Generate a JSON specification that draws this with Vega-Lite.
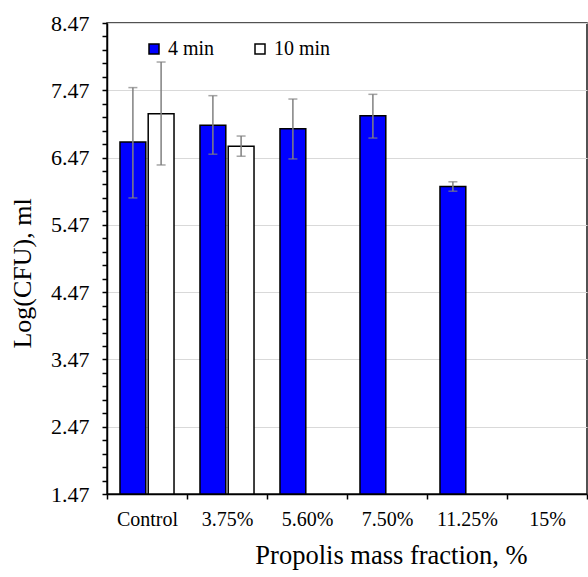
{
  "$schema": "https://vega.github.io/schema/vega-lite/v6.json",
  "width": 480,
  "height": 471,
  "autosize": {"type": "none"},
  "padding": {"left": 107, "top": 23, "right": 1, "bottom": 83},
  "background": "white",
  "config": {
    "view": {"stroke": "#1a1a1a", "strokeWidth": 1.5},
    "font": "Liberation Serif",
    "axisY": {
      "labelOverlap": false,
      "labelBound": false,
      "grid": true,
      "gridColor": "#d9d9d9",
      "gridWidth": 1.2,
      "tickSize": 5,
      "tickWidth": 1.5,
      "tickColor": "black",
      "domainColor": "black",
      "domainWidth": 1.5,
      "labelFont": "Liberation Serif",
      "labelFontSize": 22,
      "labelColor": "black",
      "labelPadding": 13,
      "titleFont": "Liberation Serif",
      "titleFontSize": 26,
      "titleFontWeight": "normal",
      "titleColor": "black",
      "titleAngle": -90,
      "titleX": -77,
      "titleY": 250,
      "titleAlign": "center",
      "titleBaseline": "alphabetic"
    }
  },
  "data": {
    "values": [
      {"fraction": "Control", "time": "4 min", "mean": 6.70, "lo": 5.87, "hi": 7.51},
      {"fraction": "Control", "time": "10 min", "mean": 7.12, "lo": 6.36, "hi": 7.89},
      {"fraction": "3.75%", "time": "4 min", "mean": 6.95, "lo": 6.52, "hi": 7.39},
      {"fraction": "3.75%", "time": "10 min", "mean": 6.64, "lo": 6.49, "hi": 6.79},
      {"fraction": "5.60%", "time": "4 min", "mean": 6.90, "lo": 6.45, "hi": 7.34},
      {"fraction": "7.50%", "time": "4 min", "mean": 7.09, "lo": 6.76, "hi": 7.41},
      {"fraction": "11.25%", "time": "4 min", "mean": 6.04, "lo": 5.97, "hi": 6.11}
    ]
  },
  "encoding": {
    "x": {
      "field": "fraction",
      "type": "nominal",
      "sort": null,
      "scale": {
        "domain": ["Control", "3.75%", "5.60%", "7.50%", "11.25%", "15%"],
        "paddingInner": 0,
        "paddingOuter": 0
      },
      "axis": {
        "title": "Propolis mass fraction, %",
        "grid": false,
        "tickBand": "extent",
        "tickSize": 5,
        "tickWidth": 1.5,
        "tickColor": "black",
        "domainColor": "black",
        "domainWidth": 1.5,
        "labelAngle": 0,
        "labelFont": "Liberation Serif",
        "labelFontSize": 20,
        "labelColor": "black",
        "labelBaseline": "alphabetic",
        "labelPadding": 26,
        "titleFont": "Liberation Serif",
        "titleFontSize": 26.5,
        "titleFontWeight": "normal",
        "titleColor": "black",
        "titleX": 284,
        "titleY": 69,
        "titleAlign": "center",
        "titleBaseline": "alphabetic"
      }
    },
    "xOffset": {
      "field": "time",
      "type": "nominal",
      "scale": {"domain": ["4 min", "10 min"], "paddingInner": 0.085, "paddingOuter": 0.46}
    }
  },
  "layer": [
    {
      "mark": {"type": "bar", "stroke": "black", "strokeWidth": 1.5},
      "encoding": {
        "y": {
          "field": "mean",
          "type": "quantitative",
          "title": "Log(CFU), ml",
          "scale": {"domain": [1.47, 8.47], "nice": false, "zero": false},
          "axis": {
            "values": [1.47, 1.67, 1.87, 2.07, 2.27, 2.47, 2.67, 2.87, 3.07, 3.27, 3.47, 3.67, 3.87, 4.07, 4.27, 4.47, 4.67, 4.87, 5.07, 5.27, 5.47, 5.67, 5.87, 6.07, 6.27, 6.47, 6.67, 6.87, 7.07, 7.27, 7.47, 7.67, 7.87, 8.07, 8.27, 8.47],
            "tickCount": 60,
            "labelExpr": "abs(datum.value - 1.47 - round(datum.value - 1.47)) < 0.01 ? format(datum.value, '.2f') : ''",
            "gridOpacity": {
              "condition": {"test": "abs(datum.value - 1.47 - round(datum.value - 1.47)) < 0.01", "value": 1},
              "value": 0
            }
          }
        },
        "y2": {"datum": 1.47},
        "color": {
          "field": "time",
          "type": "nominal",
          "scale": {"domain": ["4 min", "10 min"], "range": ["#0000ff", "#ffffff"]},
          "legend": {
            "title": null,
            "orient": "none",
            "legendX": 37,
            "legendY": 16,
            "direction": "horizontal",
            "padding": 0,
            "symbolType": "square",
            "symbolSize": 100,
            "symbolStrokeColor": "black",
            "symbolStrokeWidth": 1.5,
            "labelFont": "Liberation Serif",
            "labelFontSize": 20,
            "labelColor": "black",
            "labelOffset": 4,
            "columnPadding": 35
          }
        }
      }
    },
    {
      "mark": {"type": "rule", "color": "#808080", "strokeWidth": 1.5},
      "encoding": {
        "y": {
          "field": "lo",
          "type": "quantitative",
          "title": "Log(CFU), ml",
          "axis": {
            "values": [1.47, 1.67, 1.87, 2.07, 2.27, 2.47, 2.67, 2.87, 3.07, 3.27, 3.47, 3.67, 3.87, 4.07, 4.27, 4.47, 4.67, 4.87, 5.07, 5.27, 5.47, 5.67, 5.87, 6.07, 6.27, 6.47, 6.67, 6.87, 7.07, 7.27, 7.47, 7.67, 7.87, 8.07, 8.27, 8.47],
            "tickCount": 60,
            "labelExpr": "abs(datum.value - 1.47 - round(datum.value - 1.47)) < 0.01 ? format(datum.value, '.2f') : ''",
            "gridOpacity": {
              "condition": {"test": "abs(datum.value - 1.47 - round(datum.value - 1.47)) < 0.01", "value": 1},
              "value": 0
            }
          }
        },
        "y2": {"field": "hi"}
      }
    },
    {
      "mark": {"type": "tick", "color": "#808080", "size": 9, "thickness": 1.5, "orient": "horizontal"},
      "encoding": {
        "y": {
          "field": "lo",
          "type": "quantitative",
          "title": "Log(CFU), ml",
          "axis": {
            "values": [1.47, 1.67, 1.87, 2.07, 2.27, 2.47, 2.67, 2.87, 3.07, 3.27, 3.47, 3.67, 3.87, 4.07, 4.27, 4.47, 4.67, 4.87, 5.07, 5.27, 5.47, 5.67, 5.87, 6.07, 6.27, 6.47, 6.67, 6.87, 7.07, 7.27, 7.47, 7.67, 7.87, 8.07, 8.27, 8.47],
            "tickCount": 60,
            "labelExpr": "abs(datum.value - 1.47 - round(datum.value - 1.47)) < 0.01 ? format(datum.value, '.2f') : ''",
            "gridOpacity": {
              "condition": {"test": "abs(datum.value - 1.47 - round(datum.value - 1.47)) < 0.01", "value": 1},
              "value": 0
            }
          }
        }
      }
    },
    {
      "mark": {"type": "tick", "color": "#808080", "size": 9, "thickness": 1.5, "orient": "horizontal"},
      "encoding": {
        "y": {
          "field": "hi",
          "type": "quantitative",
          "title": "Log(CFU), ml",
          "axis": {
            "values": [1.47, 1.67, 1.87, 2.07, 2.27, 2.47, 2.67, 2.87, 3.07, 3.27, 3.47, 3.67, 3.87, 4.07, 4.27, 4.47, 4.67, 4.87, 5.07, 5.27, 5.47, 5.67, 5.87, 6.07, 6.27, 6.47, 6.67, 6.87, 7.07, 7.27, 7.47, 7.67, 7.87, 8.07, 8.27, 8.47],
            "tickCount": 60,
            "labelExpr": "abs(datum.value - 1.47 - round(datum.value - 1.47)) < 0.01 ? format(datum.value, '.2f') : ''",
            "gridOpacity": {
              "condition": {"test": "abs(datum.value - 1.47 - round(datum.value - 1.47)) < 0.01", "value": 1},
              "value": 0
            }
          }
        }
      }
    }
  ]
}
